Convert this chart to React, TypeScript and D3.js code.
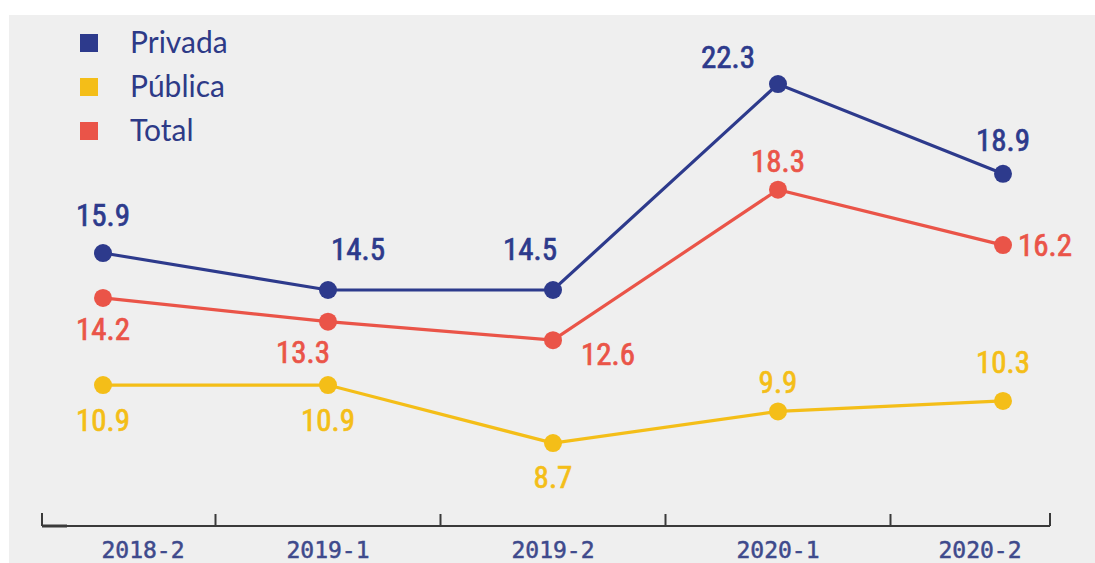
import React from "react";
import * as d3 from "d3";

const categories = ["2018-2", "2019-1", "2019-2", "2020-1", "2020-2"];
const privada = [15.9, 14.5, 14.5, 22.3, 18.9];
const publica = [10.9, 10.9, 8.7, 9.9, 10.3];
const total = [14.2, 13.3, 12.6, 18.3, 16.2];

const seriesNames = ["Privada", "Pública", "Total"];
const colors = ["#2d3a8c", "#f4be18", "#ea5448"];

// label offsets (dx, dy relative to point) – styling only
const privadaOff = [[0, -27], [30, -30], [-23, -30], [-50, -16], [0, -23]];
const publicaOff = [[0, 46], [0, 46], [0, 45], [0, -18], [0, -28]];
const totalOff = [[0, 42], [-25, 41], [55, 25], [0, -18], [42, 11]];
const catLabelDx = [40, 0, 0, 0, -23];

export default function App() {
  const W = 1095, H = 563;
  const x = d3.scalePoint<string>().domain(categories).range([103, 1003]);
  const y = d3.scaleLinear().domain([8, 23]).range([461.6, 65.6]);
  const step = x.step();
  const axisY = 526;
  const axisLeft = 42, axisRight = 1050;
  const tickXs = categories.slice(1).map((c) => (x(c) as number) - step / 2);

  const line = d3.line<number>()
    .x((_, i) => x(categories[i]) as number)
    .y((d) => y(d));

  const series = [
    { name: seriesNames[0], data: privada, color: colors[0], off: privadaOff },
    { name: seriesNames[1], data: publica, color: colors[1], off: publicaOff },
    { name: seriesNames[2], data: total, color: colors[2], off: totalOff },
  ];
  const drawOrder = [1, 2, 0];
  const numFont = "'Liberation Sans Narrow', 'Roboto Condensed', Roboto, sans-serif";

  return (
    <svg width={W} height={H} style={{ position: "absolute", left: 0, top: 0 }}>
      <rect x={0} y={0} width={W} height={H} fill="#ffffff" />
      <rect x={9} y={15} width={W - 9} height={H - 15} fill="#efefef" />

      {/* legend */}
      {series.map((s, i) => (
        <g key={s.name} transform={`translate(80, ${34 + i * 44})`}>
          <rect x={0} y={0} width={18} height={18} fill={s.color} />
          <text x={50} y={19} fontFamily="Lato, 'Open Sans', sans-serif" fontSize={30} fill="#2d3a87">
            {s.name}
          </text>
        </g>
      ))}

      {/* axis */}
      <g stroke="#3a3a3a" strokeWidth={2} fill="none">
        <line x1={axisLeft} x2={axisRight} y1={axisY} y2={axisY} />
        <line x1={axisLeft} x2={axisLeft} y1={axisY - 13} y2={axisY} />
        <line x1={axisLeft} x2={axisLeft + 25} y1={axisY} y2={axisY} strokeWidth={3} />
        <line x1={axisRight} x2={axisRight} y1={axisY - 13} y2={axisY} />
        {tickXs.map((tx, i) => (
          <line key={i} x1={tx} x2={tx} y1={axisY - 12} y2={axisY} />
        ))}
      </g>
      {categories.map((c, i) => (
        <text key={c} x={(x(c) as number) + catLabelDx[i]} y={558} textAnchor="middle"
          fontFamily="'DejaVu Sans Mono', monospace" fontSize={23} fill="#3e4a8c"
          stroke="#3e4a8c" strokeWidth={0.5}>
          {c}
        </text>
      ))}

      {/* lines */}
      {drawOrder.map((k) => {
        const s = series[k];
        return (
          <g key={s.name}>
            <path d={line(s.data) || ""} fill="none" stroke={s.color} strokeWidth={3.2} />
            {s.data.map((v, i) => (
              <circle key={i} cx={x(categories[i]) as number} cy={y(v)} r={9} fill={s.color} />
            ))}
          </g>
        );
      })}

      {/* value labels */}
      {series.map((s) =>
        s.data.map((v, i) => (
          <text key={s.name + i} x={(x(categories[i]) as number) + s.off[i][0]} y={y(v) + s.off[i][1]}
            textAnchor="middle" fontFamily={numFont} fontSize={31} fill={s.color}
            stroke={s.color} strokeWidth={0.7}>
            {v.toFixed(1)}
          </text>
        ))
      )}
    </svg>
  );
}
